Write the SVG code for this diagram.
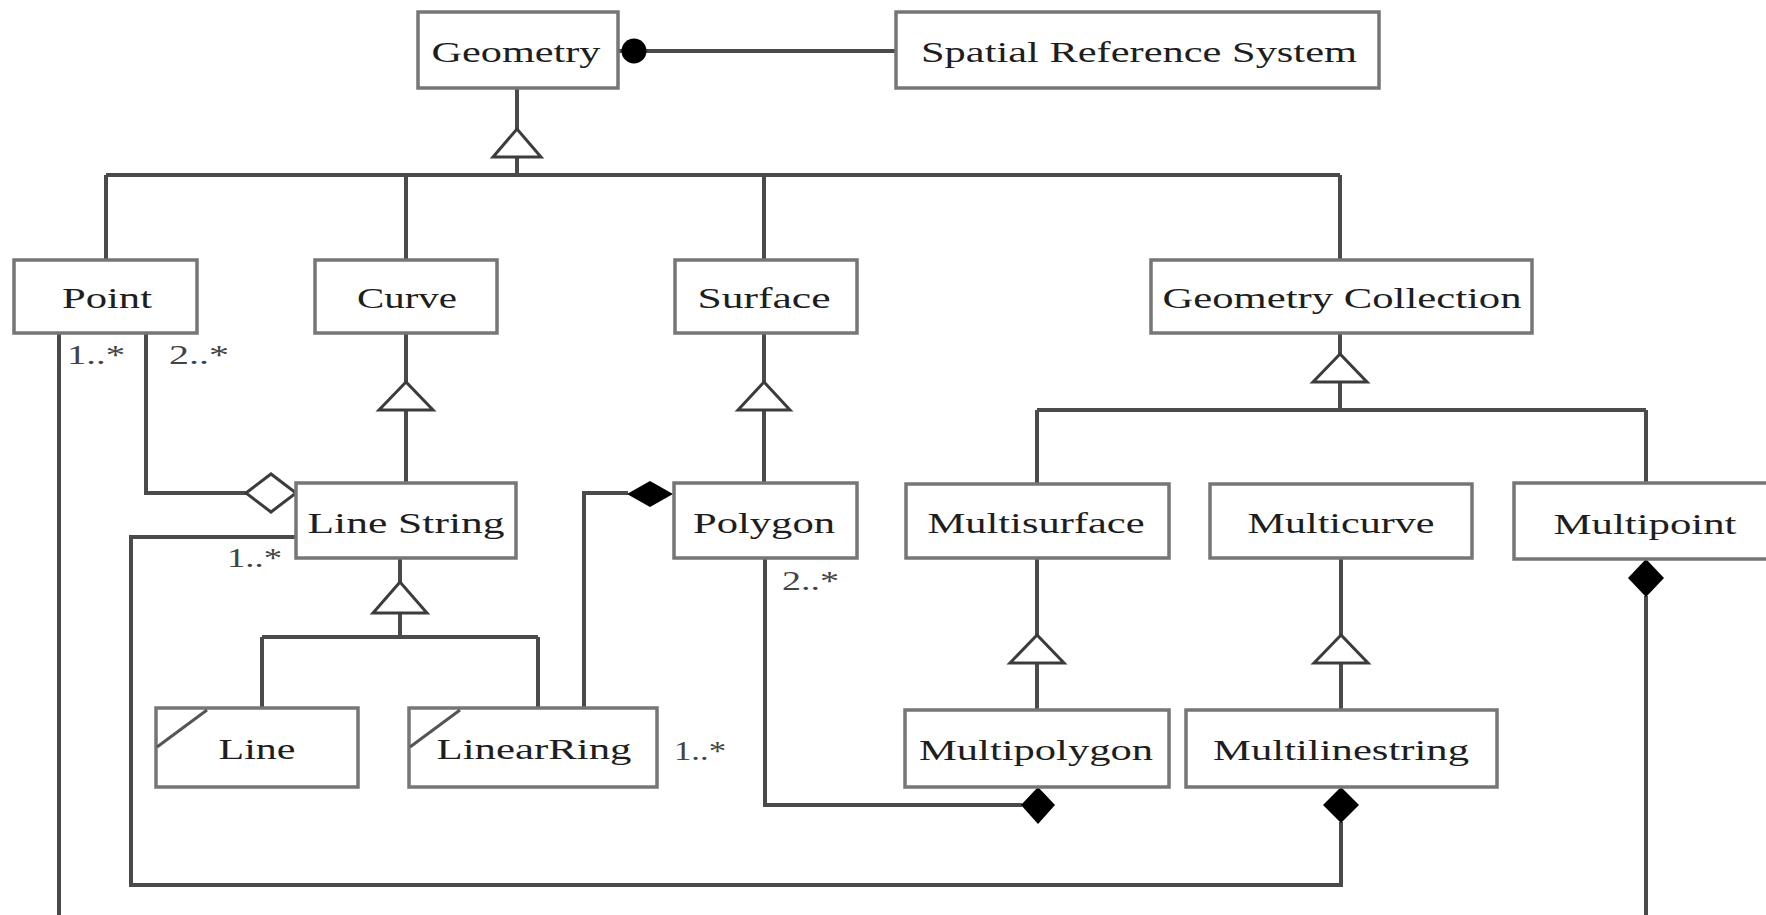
<svg xmlns="http://www.w3.org/2000/svg" width="1766" height="915" viewBox="0 0 1766 915">
<style>
.box{fill:#fff;stroke:#767676;stroke-width:3.5}
.lbl{font-family:"Liberation Serif","Times New Roman",serif;font-size:30px;fill:#1e1e1e;text-anchor:middle}
.mul{font-family:"Liberation Serif","Times New Roman",serif;font-size:28px;fill:#444;text-anchor:start}
.ln{fill:none;stroke:#4a4a4a;stroke-width:4;stroke-linejoin:miter}
.tri{fill:#fff;stroke:#3c3c3c;stroke-width:3}
.dia{fill:#fff;stroke:#3c3c3c;stroke-width:3}
.fdia{fill:#000;stroke:none}
.slash{stroke:#555;stroke-width:3}
</style>
<rect x="0" y="0" width="1766" height="915" fill="#fff"/>
<g id="connectors">
  <line class="ln" x1="618" y1="51" x2="896" y2="51"/>
  <circle cx="634" cy="51" r="12.5" fill="#000"/>
  <path class="ln" d="M517 88V130M517 157V175M106 175H1340M106 175V260M406 175V260M764 175V260M1340 175V260"/>
  <polygon class="tri" points="517,129 493,157 541,157"/>
  <path class="ln" d="M406 333V383M406 410V483"/>
  <polygon class="tri" points="406,382 379,410 433,410"/>
  <path class="ln" d="M764 333V383M764 410V483"/>
  <polygon class="tri" points="764,382 738,410 790,410"/>
  <path class="ln" d="M1340 333V355M1340 382V410M1037 410H1646M1037 410V484M1646 410V483"/>
  <polygon class="tri" points="1340,354 1313,382 1367,382"/>
  <path class="ln" d="M400 558V583M400 613V637M262 637H538M262 637V708M538 637V708"/>
  <polygon class="tri" points="400,582 373,613 427,613"/>
  <path class="ln" d="M1037 558V636M1037 663V710"/>
  <polygon class="tri" points="1037,635 1010,663 1064,663"/>
  <path class="ln" d="M1341 558V636M1341 663V710"/>
  <polygon class="tri" points="1341,635 1314,663 1368,663"/>
  <path class="ln" d="M146 333V493H246"/>
  <polygon class="dia" points="246,493 271,474 296,493 271,512"/>
  <path class="ln" d="M59 333V920"/>
  <path class="ln" d="M296 537H131V885H1341V822"/>
  <polygon class="fdia" points="1341,787 1359,805 1341,823 1323,805"/>
  <path class="ln" d="M584 708V493H628"/>
  <polygon class="fdia" points="627,494 650,481 673,494 650,507"/>
  <path class="ln" d="M765 558V805H1022"/>
  <polygon class="fdia" points="1021,805 1038,787 1055,805 1038,824"/>
  <path class="ln" d="M1646 596V920"/>
  <polygon class="fdia" points="1646,559 1664,578 1646,597 1628,578"/>
  <text class="mul" x="67" y="364" textLength="58" lengthAdjust="spacingAndGlyphs">1..*</text>
  <text class="mul" x="169" y="364" textLength="60" lengthAdjust="spacingAndGlyphs">2..*</text>
  <text class="mul" x="227" y="567" textLength="55" lengthAdjust="spacingAndGlyphs">1..*</text>
  <text class="mul" x="782" y="590" textLength="57" lengthAdjust="spacingAndGlyphs">2..*</text>
  <text class="mul" x="674" y="760" textLength="52" lengthAdjust="spacingAndGlyphs">1..*</text>
</g>
<g id="geometry"><rect class="box" x="418" y="12" width="200" height="76"/><text class="lbl" x="516" y="62" textLength="169" lengthAdjust="spacingAndGlyphs">Geometry</text></g>
<g id="srs"><rect class="box" x="896" y="12" width="483" height="76"/><text class="lbl" x="1139" y="62" textLength="436" lengthAdjust="spacingAndGlyphs">Spatial Reference System</text></g>
<g id="point"><rect class="box" x="14" y="260" width="183" height="73"/><text class="lbl" x="107" y="308" textLength="90" lengthAdjust="spacingAndGlyphs">Point</text></g>
<g id="curve"><rect class="box" x="315" y="260" width="182" height="73"/><text class="lbl" x="407" y="308" textLength="100" lengthAdjust="spacingAndGlyphs">Curve</text></g>
<g id="surface"><rect class="box" x="675" y="260" width="182" height="73"/><text class="lbl" x="764" y="308" textLength="133" lengthAdjust="spacingAndGlyphs">Surface</text></g>
<g id="geometry-collection"><rect class="box" x="1151" y="260" width="381" height="73"/><text class="lbl" x="1342" y="308" textLength="359" lengthAdjust="spacingAndGlyphs">Geometry Collection</text></g>
<g id="line-string"><rect class="box" x="296" y="483" width="220" height="75"/><text class="lbl" x="406" y="533" textLength="197" lengthAdjust="spacingAndGlyphs">Line String</text></g>
<g id="polygon"><rect class="box" x="674" y="483" width="183" height="75"/><text class="lbl" x="764" y="533" textLength="142" lengthAdjust="spacingAndGlyphs">Polygon</text></g>
<g id="multisurface"><rect class="box" x="906" y="484" width="263" height="74"/><text class="lbl" x="1036" y="533" textLength="217" lengthAdjust="spacingAndGlyphs">Multisurface</text></g>
<g id="multicurve"><rect class="box" x="1210" y="484" width="262" height="74"/><text class="lbl" x="1341" y="533" textLength="187" lengthAdjust="spacingAndGlyphs">Multicurve</text></g>
<g id="multipoint"><rect class="box" x="1514" y="483" width="280" height="76"/><text class="lbl" x="1645" y="534" textLength="183" lengthAdjust="spacingAndGlyphs">Multipoint</text></g>
<g id="line"><rect class="box" x="156" y="708" width="202" height="79"/><line class="slash" x1="157" y1="747" x2="207" y2="710"/><text class="lbl" x="257" y="759" textLength="77" lengthAdjust="spacingAndGlyphs">Line</text></g>
<g id="linear-ring"><rect class="box" x="409" y="708" width="248" height="79"/><line class="slash" x1="410" y1="747" x2="460" y2="710"/><text class="lbl" x="534" y="759" textLength="195" lengthAdjust="spacingAndGlyphs">LinearRing</text></g>
<g id="multipolygon"><rect class="box" x="905" y="710" width="264" height="77"/><text class="lbl" x="1036" y="760" textLength="234" lengthAdjust="spacingAndGlyphs">Multipolygon</text></g>
<g id="multilinestring"><rect class="box" x="1186" y="710" width="311" height="77"/><text class="lbl" x="1341" y="760" textLength="256" lengthAdjust="spacingAndGlyphs">Multilinestring</text></g>
</svg>
